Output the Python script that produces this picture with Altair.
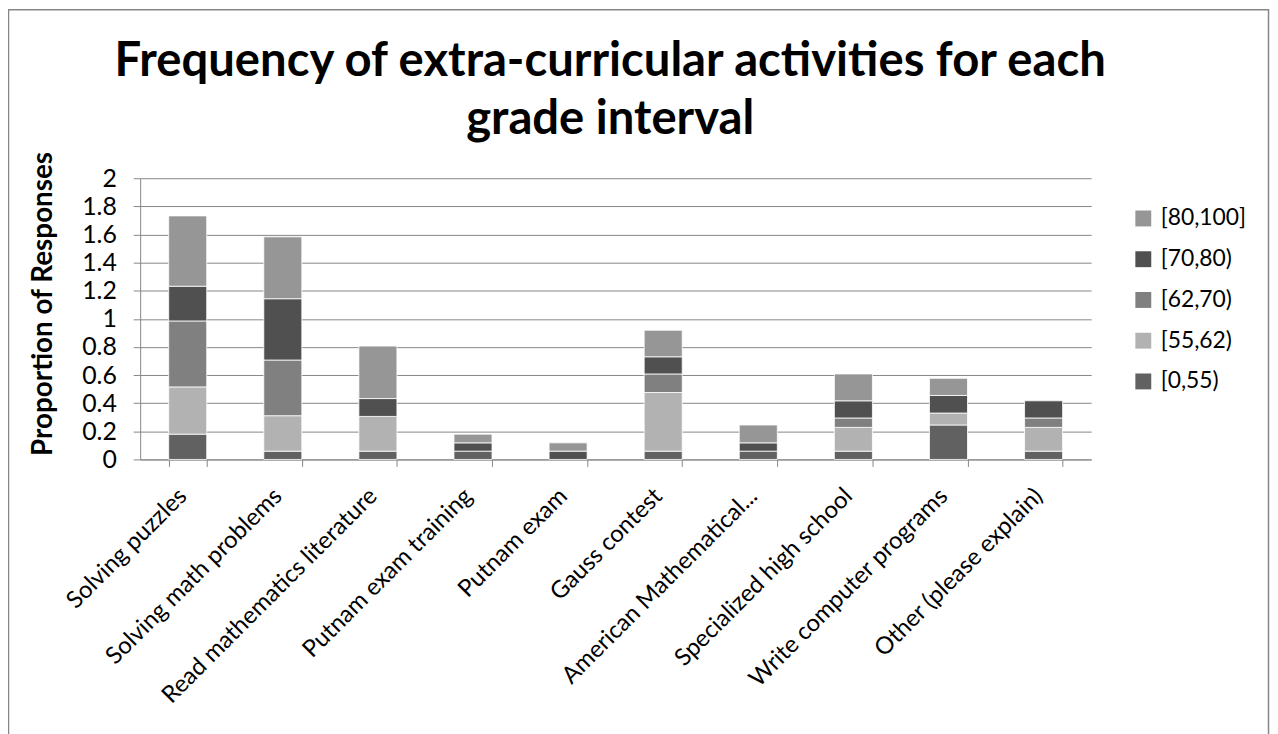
import altair as alt
import pandas as pd

categories = [
    "Solving puzzles",
    "Solving math problems",
    "Read mathematics literature",
    "Putnam exam training",
    "Putnam exam",
    "Gauss contest",
    "American Mathematical...",
    "Specialized high school",
    "Write computer programs",
    "Other (please explain)",
]

grade_groups = ["[0,55)", "[55,62)", "[62,70)", "[70,80)", "[80,100]"]
g_0_55 = [0.18, 0.059, 0.059, 0.059, 0.0, 0.059, 0.059, 0.059, 0.245, 0.059]
g_55_62 = [0.336, 0.252, 0.247, 0.0, 0.0, 0.417, 0.0, 0.169, 0.085, 0.169]
g_62_70 = [0.469, 0.396, 0.0, 0.0, 0.0, 0.132, 0.0, 0.067, 0.0, 0.067]
g_70_80 = [0.247, 0.436, 0.127, 0.059, 0.059, 0.122, 0.059, 0.122, 0.125, 0.122]
g_80_100 = [0.5, 0.44, 0.373, 0.062, 0.059, 0.189, 0.127, 0.191, 0.122, 0.0]
series = [g_0_55, g_55_62, g_62_70, g_70_80, g_80_100]

legend_order = ["[80,100]", "[70,80)", "[62,70)", "[55,62)", "[0,55)"]
legend_colors = ["#969696", "#505050", "#808080", "#b2b2b2", "#616161"]
y_ticks = [0, 0.2, 0.4, 0.6, 0.8, 1.0, 1.2, 1.4, 1.6, 1.8, 2.0]

title_lines = ["Frequency of extra-curricular activities for each", "grade interval"]

rows = []
for gi, (g, vals) in enumerate(zip(grade_groups, series)):
    for c, v in zip(categories, vals):
        rows.append({"activity": c, "grade": g, "stack_order": gi, "value": v})
df = pd.DataFrame(rows)

FONT = "Lato"
GRID = "#868686"

bars = (
    alt.Chart(df)
    .transform_filter("datum.value > 0")
    .mark_bar(stroke="#ffffff", strokeWidth=0.8)
    .encode(
        x=alt.X(
            "activity:N",
            sort=categories,
            scale=alt.Scale(paddingInner=0.6, paddingOuter=0.3),
            axis=alt.Axis(
                title=None,
                labelAngle=-45,
                labelAlign="right",
                labelBaseline="middle",
                labelPadding=26,
                labelOffset=-5,
                labelFontSize=24,
                labelFont=FONT,
                labelColor="black",
                labelLimit=400,
                tickBand="extent",
                tickSize=7,
                tickColor=GRID,
                domainColor=GRID,
                grid=False,
            ),
        ),
        y=alt.Y(
            "value:Q",
            stack="zero",
            scale=alt.Scale(domain=[0, 2], nice=False),
            axis=alt.Axis(
                values=y_ticks,
                format="~g",
                title="Proportion of Responses",
                titleFont=FONT,
                titleFontSize=28,
                titleFontWeight="bold",
                titleColor="black",
                titleX=-97,
                titleY=126,
                titleAngle=-90,
                titleAlign="center",
                titleBaseline="middle",
                labelFontSize=25,
                labelFont=FONT,
                labelColor="black",
                labelPadding=17,
                tickSize=7,
                tickColor=GRID,
                domainColor=GRID,
                gridColor=GRID,
                gridWidth=1,
            ),
        ),
        color=alt.Color(
            "grade:N",
            scale=alt.Scale(domain=legend_order, range=legend_colors),
            legend=alt.Legend(
                title=None,
                orient="none",
                legendX=998,
                legendY=29,
                symbolType="square",
                symbolSize=256,
                symbolStrokeWidth=0,
                labelFontSize=23,
                labelFont=FONT,
                labelColor="black",
                labelOffset=6,
                rowPadding=17,
                padding=0,
            ),
        ),
        order=alt.Order("stack_order:Q", sort="ascending"),
    )
)

frame = (
    alt.Chart(pd.DataFrame({"f": [0]}))
    .mark_rect(filled=False, stroke=GRID, strokeWidth=1.5)
    .encode(
        x=alt.value(-132.5),
        x2=alt.value(1135.5),
        y=alt.value(-169.5),
        y2=alt.value(620),
    )
)

title = (
    alt.Chart(pd.DataFrame({"f": [0]}))
    .mark_text(
        font=FONT,
        fontSize=47.5,
        fontWeight="bold",
        lineHeight=59,
        color="black",
        align="center",
        baseline="alphabetic",
    )
    .encode(
        x=alt.value(473),
        y=alt.value(-103),
        text=alt.value(title_lines),
    )
)

chart = (
    alt.layer(frame, bars, title)
    .properties(
        width=957,
        height=283,
        autosize=alt.AutoSizeParams(type="none"),
        padding={"left": 133, "top": 169, "right": 180, "bottom": 274},
    )
    .configure_view(stroke=None)
)

chart.save("out.html", embed_options={"renderer": "svg", "actions": False})
